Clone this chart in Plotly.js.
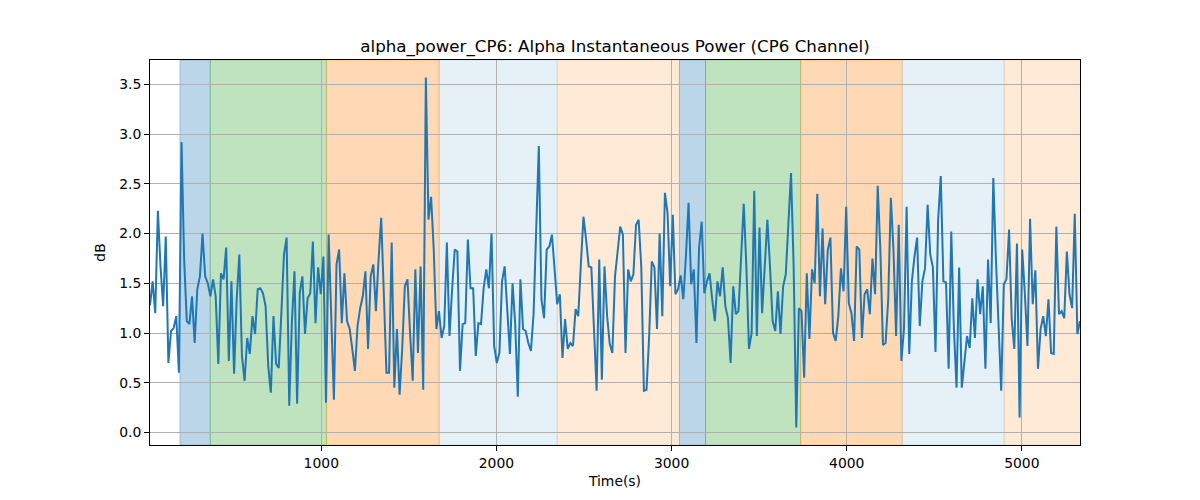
<!DOCTYPE html>
<html>
<head>
<meta charset="utf-8">
<script src="https://cdn.plot.ly/plotly-3.0.1.min.js"></script>
<style>
  body { margin: 0; background: #fff; }
  #chart { width: 1200px; height: 500px; }
</style>
</head>
<body>
<div id="chart"></div>
<script>
// sampling of the power series (seconds)
const startTime = 22;
const stepTime = 15;

// alpha power in dB, one value per sample
const power = [
  1.28, 1.52, 1.20, 2.23, 1.67, 1.27, 1.97, 0.70, 1.02, 1.05,
  1.17, 0.60, 2.92, 1.74, 1.12, 1.09, 1.37, 0.90, 1.44, 1.57,
  2.00, 1.57, 1.50, 1.37, 1.54, 1.37, 0.69, 1.60, 1.54, 1.86,
  0.72, 1.52, 0.59, 1.34, 1.79, 0.77, 0.52, 0.95, 0.79, 1.17,
  0.99, 1.44, 1.45, 1.40, 1.27,
  0.67, 0.40, 1.17, 0.69, 0.65, 1.20, 1.79, 1.96, 0.27, 1.10,
  1.62, 0.29, 1.40, 1.57, 0.99, 1.35, 1.40, 1.92, 1.10, 1.66,
  1.39, 1.77, 0.30, 1.99, 1.07, 0.33, 1.69, 1.84, 1.10, 1.60,
  1.12, 1.04, 0.84, 0.62, 1.07, 1.25, 1.37, 1.62, 0.84, 1.57,
  1.69, 1.22, 1.74, 2.16,
  1.40, 0.60, 0.60, 1.91, 0.45, 1.04, 0.38, 0.84, 1.47, 1.54,
  1.00, 0.52, 1.64, 0.80, 1.67, 0.43, 3.57, 2.14, 2.37, 1.84,
  1.04, 1.22, 0.95, 1.07, 1.91, 0.97, 1.44, 1.84, 1.82, 0.62,
  1.09, 1.10, 1.94, 1.45, 1.45, 0.77, 1.10, 1.09, 1.45, 1.64,
  1.45, 2.00, 0.87, 0.70, 0.80,
  1.52, 1.67, 1.17, 0.79, 1.50, 1.10, 0.36, 1.54, 1.04, 1.02,
  0.90, 0.82, 1.19, 2.00, 2.88, 1.34, 1.15, 1.84, 1.87, 1.99,
  1.64, 1.29, 1.39, 0.75, 1.14, 0.84, 0.90, 0.87, 1.24, 1.17,
  1.69, 2.17, 1.94, 1.67, 1.66, 1.07, 0.42, 1.74, 0.53, 1.67,
  1.17, 0.89, 0.80, 1.57,
  1.85, 2.07, 1.99, 0.80, 1.64, 1.52, 1.59, 2.09, 2.14, 1.67,
  0.42, 0.43, 0.97, 1.72, 1.66, 1.04, 2.00, 1.17, 2.41, 2.21,
  1.47, 2.19, 1.39, 1.44, 1.58, 1.34, 1.77, 2.31, 1.49, 1.64,
  0.90, 1.86, 2.12, 1.40, 1.52, 1.60, 1.34, 1.12, 1.52, 1.37,
  1.66, 1.27, 1.15, 0.70, 1.47,
  1.19, 1.22, 1.74, 2.30, 1.67, 0.84, 1.00, 2.43, 0.97, 2.06,
  1.20, 1.70, 2.14, 1.67, 1.12, 1.02, 1.42, 0.99, 1.47, 1.59,
  2.04, 2.61, 1.67, 0.05, 1.25, 1.22, 0.55, 1.60, 0.94, 1.64,
  1.50, 2.40, 1.37, 2.05, 1.29, 1.84, 1.96, 1.00, 0.92, 1.17,
  1.65, 1.42, 2.27, 1.30, 1.20,
  0.92, 1.87, 1.84, 0.95, 1.39, 1.44, 1.19, 1.75, 1.39, 2.48,
  1.84, 0.88, 0.90, 1.34, 2.36, 1.84, 0.97, 2.09, 0.72, 1.04,
  2.27, 0.79, 1.52, 1.77, 1.96, 1.07, 1.52, 1.65, 2.29, 1.79,
  1.66, 0.81, 2.14, 2.58, 1.52, 1.51, 0.64, 2.02, 1.04, 0.45,
  1.66, 0.45, 0.72, 0.97,
  0.85, 1.35, 0.95, 1.54, 1.19, 1.47, 0.64, 1.74, 1.10, 2.56,
  1.74, 1.00, 0.42, 1.49, 1.54, 2.04, 1.14, 0.84, 1.90, 0.15,
  1.84, 1.40, 0.87, 2.15, 1.29, 1.63, 0.64, 1.04, 1.17, 0.97,
  1.34, 0.80, 0.79, 2.07, 1.19, 1.22, 1.15, 1.82, 1.39, 1.25,
  2.20, 0.99, 1.12
];

// shaded segments: start, end, colour
const bandStart = [193, 366, 1030, 1673, 2347, 3045, 3194, 3737, 4317, 4899];
const bandEnd   = [366, 1030, 1673, 2347, 3045, 3194, 3737, 4317, 4899, 5343];
const bandColor = [
  'rgba(31,119,180,0.3)', 'rgba(44,160,44,0.3)', 'rgba(255,127,14,0.3)',
  'rgba(31,119,180,0.11)', 'rgba(255,127,14,0.16)',
  'rgba(31,119,180,0.3)', 'rgba(44,160,44,0.3)', 'rgba(255,127,14,0.3)',
  'rgba(31,119,180,0.11)', 'rgba(255,127,14,0.16)'
];

const times = power.map((_, i) => startTime + i * stepTime);

const shapes = bandStart.map((s, i) => ({
  type: 'rect',
  xref: 'x', yref: 'paper',
  x0: s, x1: bandEnd[i], y0: 0, y1: 1,
  fillcolor: bandColor[i],
  line: { color: bandColor[i], width: 1 },
  layer: 'below'
}));

const trace = {
  x: times,
  y: power,
  type: 'scatter',
  mode: 'lines',
  line: { color: '#1f77b4', width: 2 },
  hoverinfo: 'x+y'
};

const axisCommon = {
  showline: true,
  linecolor: 'black',
  linewidth: 1,
  mirror: true,
  ticks: 'outside',
  ticklen: 5,
  tickcolor: 'black',
  showgrid: true,
  gridcolor: '#b0b0b0',
  gridwidth: 1,
  zeroline: false,
  tickfont: { size: 13.9, color: 'black' }
};

const layout = {
  width: 1200,
  height: 500,
  margin: { l: 150, r: 120, t: 60, b: 55 },
  paper_bgcolor: 'white',
  plot_bgcolor: 'white',
  font: { family: 'DejaVu Sans, sans-serif', color: 'black' },
  showlegend: false,
  title: {
    text: 'alpha_power_CP6: Alpha Instantaneous Power (CP6 Channel)',
    font: { size: 16.7, color: 'black' },
    x: 0.5, xref: 'paper',
    y: 0.908, yref: 'container', yanchor: 'middle'
  },
  xaxis: Object.assign({}, axisCommon, {
    range: [times[0], times[times.length - 1]],
    tickvals: [1000, 2000, 3000, 4000, 5000],
    title: { text: 'Time(s)', font: { size: 13.9 }, standoff: 6 }
  }),
  yaxis: Object.assign({}, axisCommon, {
    range: [-0.126, 3.746],
    tickvals: [0, 0.5, 1, 1.5, 2, 2.5, 3, 3.5],
    tickformat: '.1f',
    title: { text: 'dB', font: { size: 13.9 }, standoff: 10 }
  }),
  shapes: shapes
};

Plotly.newPlot('chart', [trace], layout, { displayModeBar: false, staticPlot: true });
</script>
</body>
</html>
